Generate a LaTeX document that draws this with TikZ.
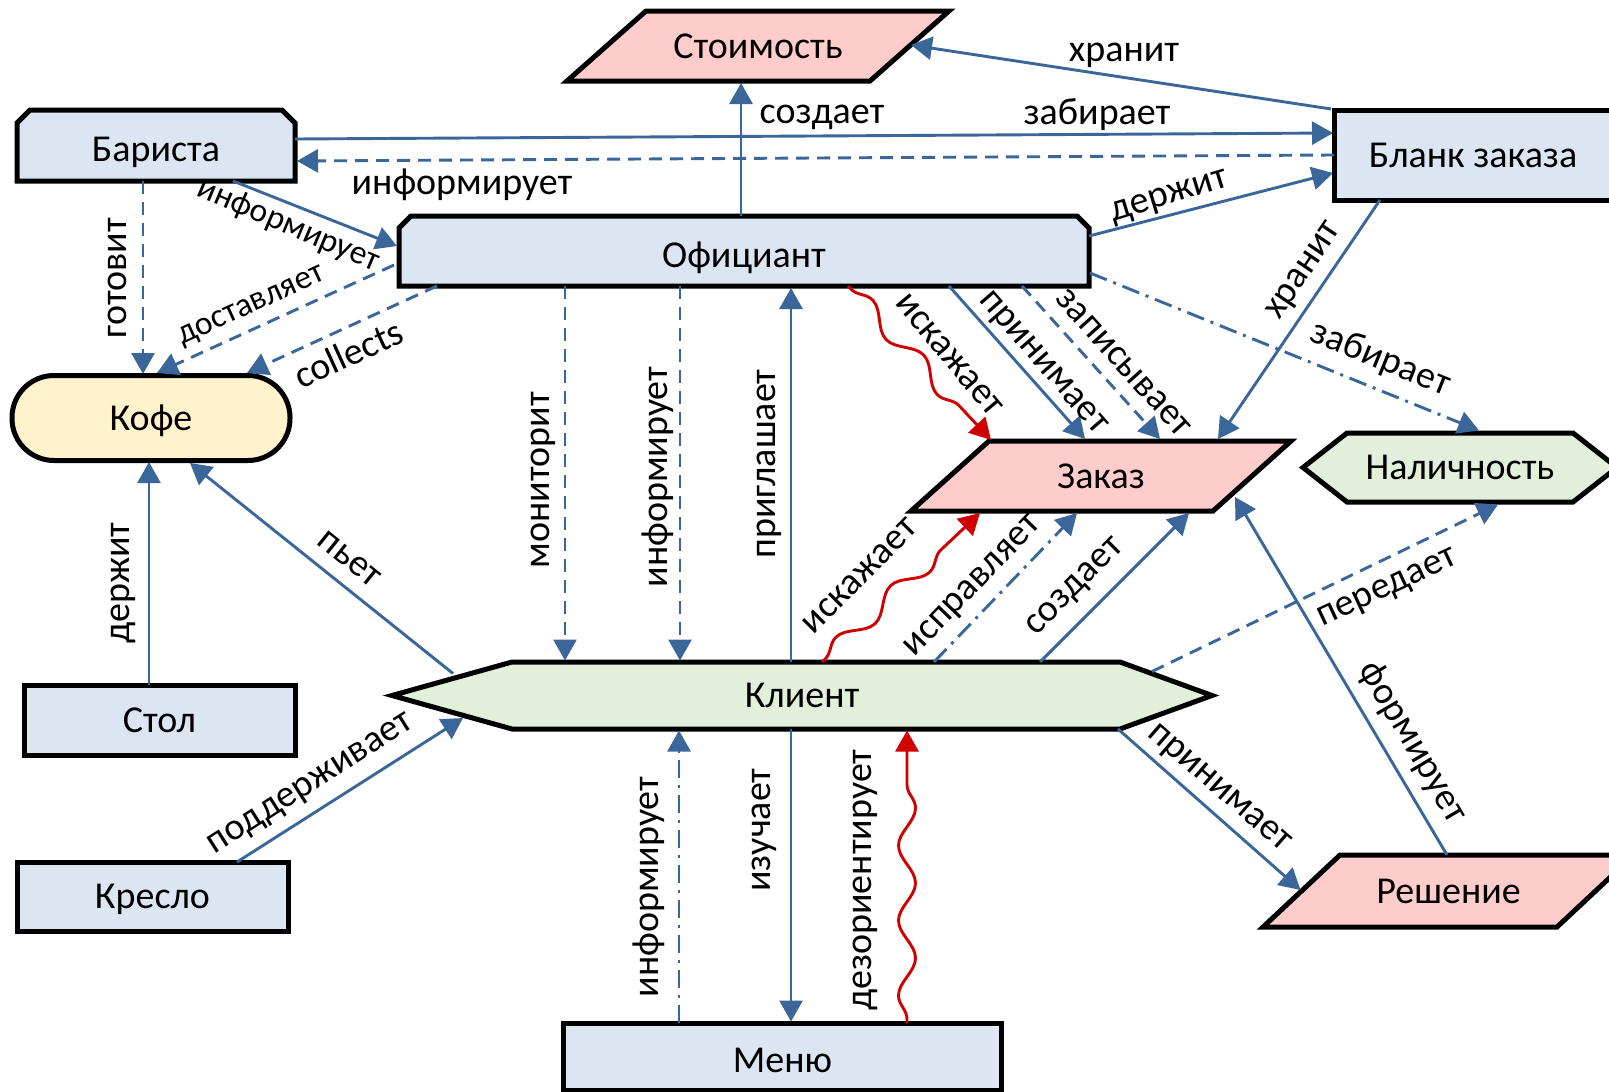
\documentclass[tikz,border=0pt]{standalone}
\usepackage{fontspec}
\setmainfont{Carlito}
\usetikzlibrary{arrows.meta,decorations.pathmorphing,backgrounds}
\definecolor{fblue}{HTML}{DCE6F2}
\definecolor{fpink}{HTML}{FFCCCC}
\definecolor{fgreen}{HTML}{E2EFDA}
\definecolor{fyellow}{HTML}{FFF2CC}
\definecolor{eblue}{HTML}{3A6699}
\definecolor{ered}{HTML}{D00000}
\tikzset{
  box/.style={inner sep=0pt, outer sep=0pt, font=\fontsize{38}{40}\selectfont, text height=24.5pt, text depth=0pt},
  lowbox/.style={text height=32pt},
  lab/.style={inner sep=0pt, outer sep=0pt, font=\fontsize{38}{40}\selectfont, text height=22.8pt, text depth=5pt},
  smalllab/.style={font=\fontsize{33.5}{36}\selectfont, text height=20pt, text depth=4.4pt},
  bd/.style={draw=black, line width=5pt, line join=miter},
  conn/.style={draw=eblue, line width=2.9pt, -{Triangle[length=21pt,width=23pt]}},
  dsh/.style={dash pattern=on 13pt off 8pt},
  dshdot/.style={dash pattern=on 18pt off 7pt on 3pt off 7pt},
  wave/.style={draw=ered, line width=2.9pt, -{Triangle[length=21pt,width=23pt]},
    decorate, decoration={snake, amplitude=8.5pt, segment length=75pt, pre length=4pt, post length=24pt}}
}
\begin{document}
\begin{tikzpicture}[x=1pt,y=-1pt]
\path[use as bounding box] (0,0) rectangle (1609,1092);
% nodes
\node[box, minimum width=382pt, minimum height=70pt] (cost) at (758,46) {Стоимость};
\node[box, lowbox, minimum width=278pt, minimum height=71pt] (bar) at (156,145.5) {Бариста};
\node[box, minimum width=278pt, minimum height=90pt] (blank) at (1473,155) {Бланк заказа};
\node[box, lowbox, minimum width=690pt, minimum height=70pt] (ofc) at (744,251) {Официант};
\node[box, minimum width=278pt, minimum height=85pt] (kofe) at (151,418) {Кофе};
\node[box, minimum width=380pt, minimum height=70pt] (zakaz) at (1101,476) {Заказ};
\node[box, minimum width=314pt, minimum height=69pt] (nal) at (1460,467.5) {Наличность};
\node[box, minimum width=820pt, minimum height=67pt] (kli) at (802,695.5) {Клиент};
\node[box, minimum width=271pt, minimum height=70pt] (stol) at (159.5,720) {Стол};
\node[box, minimum width=271pt, minimum height=69pt] (kreslo) at (152.5,896.5) {Кресло};
\node[box, lowbox, minimum width=438pt, minimum height=67pt] (menu) at (782.5,1056.5) {Меню};
\node[box, minimum width=371pt, minimum height=72pt] (resh) at (1448.5,891) {Решение};
% shapes
\begin{scope}[on background layer]
\fill[white] (0,0) rectangle (1609,1092);
\draw[bd, fill=fpink] (cost.south west) -- ([xshift=79pt]cost.north west) -- (cost.north east) -- ([xshift=-79pt]cost.south east) -- cycle;
\draw[bd, fill=fblue] ([yshift=-13pt]bar.north west) -- ([xshift=13pt]bar.north west) -- ([xshift=-13pt]bar.north east) -- ([yshift=-13pt]bar.north east) -- (bar.south east) -- (bar.south west) -- cycle;
\draw[bd, fill=fblue] (blank.south west) rectangle (blank.north east);
\draw[bd, fill=fblue] ([yshift=-12pt]ofc.north west) -- ([xshift=12pt]ofc.north west) -- ([xshift=-12pt]ofc.north east) -- ([yshift=-12pt]ofc.north east) -- (ofc.south east) -- (ofc.south west) -- cycle;
\draw[bd, fill=fyellow, rounded corners=42pt] (kofe.south west) rectangle (kofe.north east);
\draw[bd, fill=fpink] (zakaz.south west) -- ([xshift=78pt]zakaz.north west) -- (zakaz.north east) -- ([xshift=-78pt]zakaz.south east) -- cycle;
\draw[bd, fill=fgreen] (nal.west) -- ([xshift=44pt]nal.north west) -- ([xshift=-44pt]nal.north east) -- (nal.east) -- ([xshift=-44pt]nal.south east) -- ([xshift=44pt]nal.south west) -- cycle;
\draw[bd, fill=fgreen] (kli.west) -- ([xshift=120pt]kli.north west) -- ([xshift=-92pt]kli.north east) -- (kli.east) -- ([xshift=-92pt]kli.south east) -- ([xshift=120pt]kli.south west) -- cycle;
\draw[bd, fill=fblue] (stol.south west) rectangle (stol.north east);
\draw[bd, fill=fblue] (kreslo.south west) rectangle (kreslo.north east);
\draw[bd, fill=fblue] (menu.south west) rectangle (menu.north east);
\draw[bd, fill=fpink] (resh.south west) -- ([xshift=77pt]resh.north west) -- (resh.north east) -- ([xshift=-77pt]resh.south east) -- cycle;
\end{scope}
% connectors
\draw[conn] ([shift={(-142,-46)}]blank.center) -- ([shift={(153,-1)}]cost.center);
\draw[conn] ([shift={(139,-6.5)}]bar.center) -- ([shift={(-140,-22)}]blank.center);
\draw[conn, dsh] ([shift={(-139,0)}]blank.center) -- ([shift={(141,15.5)}]bar.center);
\draw[conn] ([shift={(-3,-35)}]ofc.center) -- ([shift={(-17,37)}]cost.center);
\draw[conn] ([shift={(345,-15)}]ofc.center) -- ([shift={(-140,18)}]blank.center);
\draw[conn] ([shift={(-93,45)}]blank.center) -- ([shift={(117,-37)}]zakaz.center);
\draw[conn, dshdot] ([shift={(346,22)}]ofc.center) -- ([shift={(19,-37)}]nal.center);
\draw[conn, dsh] ([shift={(278,35)}]ofc.center) -- ([shift={(59,-37)}]zakaz.center);
\draw[conn] ([shift={(205,35)}]ofc.center) -- ([shift={(-16,-37)}]zakaz.center);
\draw[wave] ([shift={(104,35)}]ofc.center) -- ([shift={(-110,-36)}]zakaz.center);
\draw[conn, dsh] ([shift={(-350,14)}]ofc.center) -- ([shift={(6,-45)}]kofe.center);
\draw[conn, dsh] ([shift={(-307,35)}]ofc.center) -- ([shift={(96,-45)}]kofe.center);
\draw[conn] ([shift={(77,35.5)}]bar.center) -- ([shift={(-347,-5)}]ofc.center);
\draw[conn, dsh] ([shift={(-13,35.5)}]bar.center) -- ([shift={(-8,-44)}]kofe.center);
\draw[conn] ([shift={(-10.5,-35)}]stol.center) -- ([shift={(-2,44)}]kofe.center);
\draw[conn] ([shift={(-349,-22)}]kli.center) -- ([shift={(39,45)}]kofe.center);
\draw[conn] ([shift={(84.5,-34.5)}]kreslo.center) -- ([shift={(-339,22.5)}]kli.center);
\draw[conn, dsh] ([shift={(-179,35)}]ofc.center) -- ([shift={(-237,-35)}]kli.center);
\draw[conn, dsh] ([shift={(-64,35)}]ofc.center) -- ([shift={(-122,-35)}]kli.center);
\draw[conn] ([shift={(-11,-33.5)}]kli.center) -- ([shift={(47,37)}]ofc.center);
\draw[wave] ([shift={(20,-33.5)}]kli.center) -- ([shift={(-121,37)}]zakaz.center);
\draw[conn, dshdot] ([shift={(132,-33.5)}]kli.center) -- ([shift={(-24,37)}]zakaz.center);
\draw[conn] ([shift={(238,-33.5)}]kli.center) -- ([shift={(88,37)}]zakaz.center);
\draw[conn, dsh] ([shift={(350,-24)}]kli.center) -- ([shift={(38,37)}]nal.center);
\draw[conn] ([shift={(-1.5,-36)}]resh.center) -- ([shift={(134,21)}]zakaz.center);
\draw[conn] ([shift={(316,33.5)}]kli.center) -- ([shift={(-148,-1)}]resh.center);
\draw[conn, dshdot] ([shift={(-103.5,-33.5)}]menu.center) -- ([shift={(-123,35)}]kli.center);
\draw[conn] ([shift={(-11,33.5)}]kli.center) -- ([shift={(8.5,-35)}]menu.center);
\draw[wave] ([shift={(124.5,-33.5)}]menu.center) -- ([shift={(105,35)}]kli.center);
% labels
\node[lab] (l1) at (1124,53) {хранит};
\node[lab] (l2) at (1097,116) {забирает};
\node[lab] (l3) at (462,186) {информирует};
\node[lab] (l4) at (822,115) {создает};
\node[lab, rotate=17] (l5) at (1169,195) {держит};
\node[lab, rotate=56] (l6) at (1303,270) {хранит};
\node[lab, rotate=-22] (l7) at (1380,360) {забирает};
\node[lab, rotate=-48] (l8) at (1123,363) {записывает};
\node[lab, rotate=-49] (l9) at (1044,362) {принимает};
\node[lab, rotate=-50] (l10) at (949,355) {искажает};
\node[lab, smalllab, rotate=24.5] (l11) at (251,305) {доставляет};
\node[lab, rotate=24.6] (l12) at (350,357) {collects};
\node[lab, smalllab, rotate=-23] (l13) at (288,226) {информирует};
\node[lab, rotate=90] (l14) at (118,278) {готовит};
\node[lab, rotate=90] (l15) at (121,583) {держит};
\node[lab, rotate=-38.7] (l16) at (349,559) {пьет};
\node[lab, rotate=32.5] (l17) at (310,783) {поддерживает};
\node[lab, rotate=90] (l18) at (541,480) {мониторит};
\node[lab, rotate=90] (l19) at (659,477) {информирует};
\node[lab, rotate=90] (l20) at (767,464) {приглашает};
\node[lab, rotate=45] (l21) at (860,576) {искажает};
\node[lab, rotate=46] (l22) at (972,585) {исправляет};
\node[lab, rotate=45] (l23) at (1074,586) {создает};
\node[lab, rotate=25] (l24) at (1387,587) {передает};
\node[lab, rotate=-59.6] (l25) at (1412,743) {формирует};
\node[lab, rotate=-41] (l26) at (1220,787) {принимает};
\node[lab, rotate=90] (l27) at (650,887) {информирует};
\node[lab, rotate=90] (l28) at (762,830) {изучает};
\node[lab, rotate=90] (l29) at (863,880) {дезориентирует};
\end{tikzpicture}
\end{document}
